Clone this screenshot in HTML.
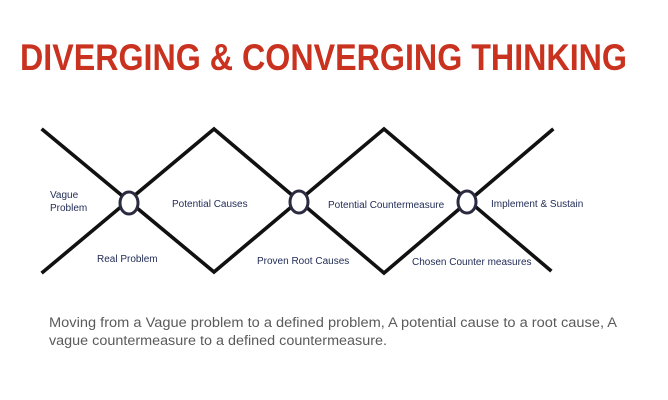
<!DOCTYPE html>
<html><head><meta charset="utf-8"><style>
html,body{margin:0;padding:0;background:#fff;width:668px;height:400px;overflow:hidden}
</style></head><body>
<svg width="668" height="400" xmlns="http://www.w3.org/2000/svg">
<text x="20" y="70" font-family="Liberation Sans, sans-serif" font-weight="bold" font-size="37" fill="#c9321f" textLength="607" lengthAdjust="spacingAndGlyphs">DIVERGING &amp; CONVERGING THINKING</text>
<g stroke="#111" stroke-width="3.6" fill="none" stroke-linecap="square">
<polyline points="43,130 214,272 384,129 550,270"/>
<polyline points="43,272 214,129 384,273 552,130"/>
</g>
<g stroke="#2a2a40" stroke-width="3" fill="#fff">
<ellipse cx="129" cy="203" rx="9" ry="11"/>
<ellipse cx="299" cy="202" rx="9" ry="11"/>
<ellipse cx="467" cy="202" rx="9" ry="11"/>
</g>
<g font-family="Liberation Sans, sans-serif" font-size="10" fill="#1f2a55">
<text x="50" y="198">Vague</text>
<text x="50" y="211">Problem</text>
<text x="172" y="207">Potential Causes</text>
<text x="328" y="208">Potential Countermeasure</text>
<text x="491" y="207">Implement &amp; Sustain</text>
<text x="97" y="262">Real Problem</text>
<text x="257" y="264">Proven Root Causes</text>
<text x="412" y="265">Chosen Counter measures</text>
</g>
<g font-family="Liberation Sans, sans-serif" font-size="13.5" fill="#5a5a5a">
<text x="49" y="327" textLength="568" lengthAdjust="spacingAndGlyphs">Moving from a Vague problem to a defined problem, A potential cause to a root cause, A</text>
<text x="49" y="345" textLength="338" lengthAdjust="spacingAndGlyphs">vague countermeasure to a defined countermeasure.</text>
</g>
</svg>
</body></html>
